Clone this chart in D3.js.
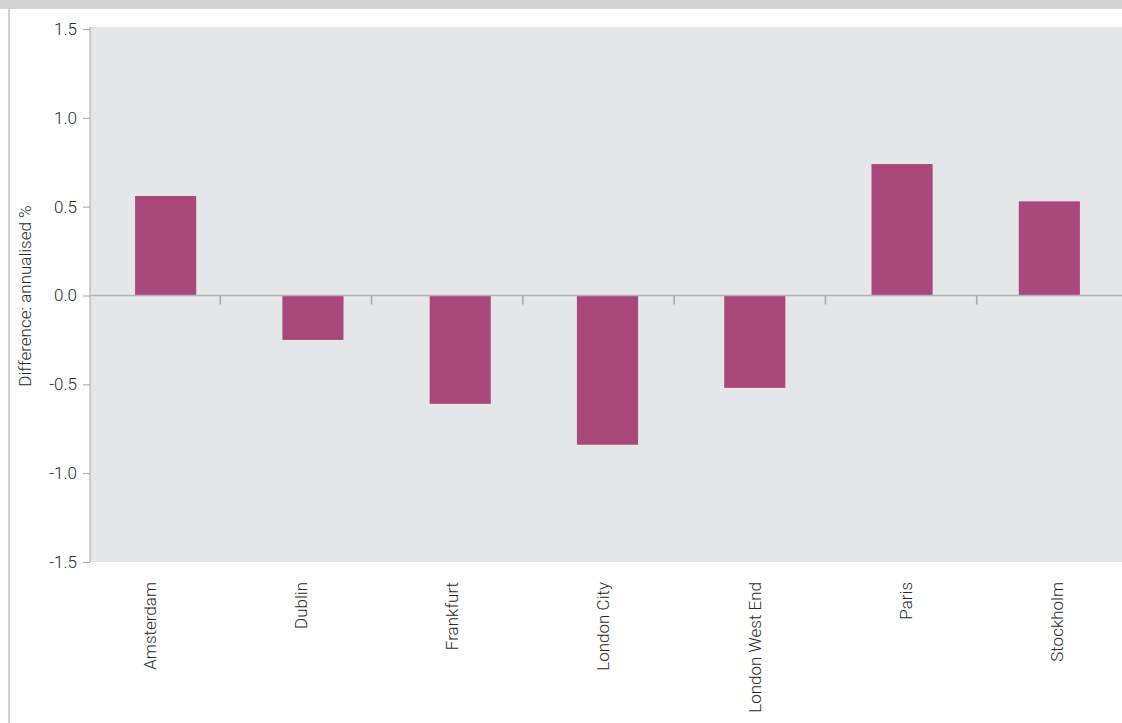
<!DOCTYPE html>
<html>
<head>
<meta charset="utf-8">
<script src="https://cdn.jsdelivr.net/npm/d3@7"></script>
<style>
  html, body { margin: 0; padding: 0; background: #ffffff; }
  svg { display: block; }
  text { font-family: Roboto, "Open Sans", sans-serif; font-weight: 300; fill: #2a2a2a; }
</style>
</head>
<body>
<svg id="chart" width="1122" height="723"></svg>
<script>
// ---- data ----
const categories = ["Amsterdam", "Dublin", "Frankfurt", "London City", "London West End", "Paris", "Stockholm"];
const values = [0.56, -0.25, -0.61, -0.84, -0.52, 0.74, 0.53];
const yTicks = [-1.5, -1.0, -0.5, 0.0, 0.5, 1.0, 1.5];
const yLabel = "Difference: annualised %";

// ---- layout ----
const W = 1122, H = 723;
const plot = { left: 90, right: 1122, top: 27, bottom: 562 };

const svg = d3.select("#chart");

// frame decorations
svg.append("rect").attr("x", 0).attr("y", 0).attr("width", W).attr("height", 9).attr("fill", "#d3d3d5");
svg.append("rect").attr("x", 8).attr("y", 9).attr("width", 2).attr("height", H - 9).attr("fill", "#d2d2d4");

// plot background
svg.append("rect")
  .attr("x", plot.left).attr("y", plot.top)
  .attr("width", plot.right - plot.left).attr("height", plot.bottom - plot.top)
  .attr("fill", "#e5e6e8");

// scales
const y = d3.scaleLinear().domain([-1.5, 1.5]).range([562, 29]);
const x = d3.scaleBand().domain(categories).range([92, 1123]).paddingInner(0.585).paddingOuter(0.2925);
// category axis (ticks + labels) sits on a slightly different band grid
const xAxisScale = d3.scaleBand().domain(categories).range([69, 1128]);

// bars
svg.append("g").selectAll("rect")
  .data(categories.map((c, i) => ({ c, v: values[i] })))
  .join("rect")
  .attr("x", d => x(d.c))
  .attr("width", x.bandwidth())
  .attr("y", d => y(Math.max(0, d.v)))
  .attr("height", d => Math.abs(y(d.v) - y(0)))
  .attr("fill", "#a9497a");

// y axis
const yAxis = d3.axisLeft(y).tickValues(yTicks).tickFormat(d3.format(".1f")).tickSize(7).tickPadding(6);
const gy = svg.append("g").attr("transform", `translate(${plot.left},0)`).call(yAxis);
gy.select(".domain").remove();
gy.selectAll(".tick line").attr("stroke", "#a6a6a6");
gy.selectAll(".tick text").style("font-size", "17px").attr("fill", "#2a2a2a")
  .text(d => d < 0 ? "-" + d3.format(".1f")(-d) : d3.format(".1f")(d));
gy.append("line").attr("x1", 0).attr("x2", 0).attr("y1", plot.top).attr("y2", plot.bottom)
  .attr("stroke", "#a6a6a6").attr("stroke-width", 1);

// zero line
svg.append("line")
  .attr("x1", plot.left).attr("x2", plot.right)
  .attr("y1", y(0)).attr("y2", y(0))
  .attr("stroke", "#b2b2b4").attr("stroke-width", 1.5);

// category tick marks at band boundaries
svg.append("g").selectAll("line")
  .data(categories.slice(1))
  .join("line")
  .attr("x1", d => xAxisScale(d)).attr("x2", d => xAxisScale(d))
  .attr("y1", y(0)).attr("y2", y(0) + 9)
  .attr("stroke", "#a6a6a6").attr("stroke-width", 1.5);

// category labels
svg.append("g").selectAll("text")
  .data(categories)
  .join("text")
  .attr("transform", d => `translate(${xAxisScale(d) + xAxisScale.bandwidth() / 2 + 5},582) rotate(-90)`)
  .attr("text-anchor", "end")
  .attr("dy", "0.35em")
  .style("font-size", "17px")
  .text(d => d);

// y axis title
svg.append("text")
  .attr("transform", `translate(25,296) rotate(-90)`)
  .attr("text-anchor", "middle")
  .attr("dy", "0.35em")
  .style("font-size", "17px")
  .text(yLabel);
</script>
</body>
</html>
